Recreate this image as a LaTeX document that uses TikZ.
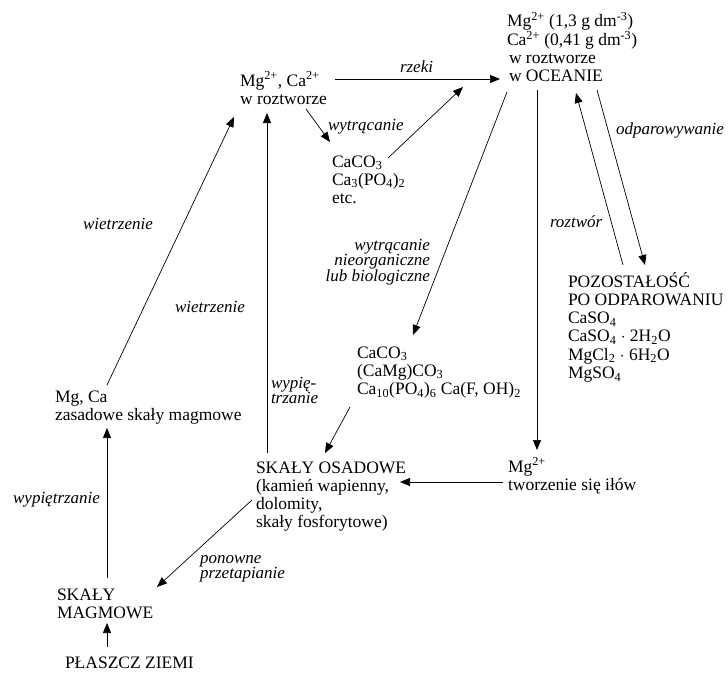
\documentclass[tikz,border=0pt]{standalone}
\usepackage{fontspec}
\setmainfont{Liberation Serif}
\usetikzlibrary{arrows.meta}
\newcommand{\stackL}[1]{\vtop{\baselineskip=18.3pt\lineskiplimit=-100pt\lineskip=0pt\halign{##\hfil\cr#1\crcr}}}
\newcommand{\istackL}[1]{\vtop{\baselineskip=15.5pt\lineskiplimit=-100pt\lineskip=0pt\halign{##\hfil\cr#1\crcr}}}
\newcommand{\istackR}[1]{\vtop{\baselineskip=15.5pt\lineskiplimit=-100pt\lineskip=0pt\halign{\hfil##\cr#1\crcr}}}
\newcommand{\up}[1]{\textsuperscript{#1}}
\newcommand{\dn}[1]{\textsubscript{#1}}
\begin{document}
\begin{tikzpicture}[x=1pt,y=-1pt,
  every node/.style={inner sep=0pt, outer sep=0pt},
  txt/.style={font=\fontsize{17.5}{18.3}\selectfont, anchor=base west},
  lab/.style={font=\fontsize{17}{15.5}\selectfont\itshape, anchor=base west},
  labR/.style={font=\fontsize{17}{15.5}\selectfont\itshape, anchor=base east},
  arr/.style={line width=0.7pt, -{Triangle[length=10pt,width=8pt]}}]
\path[fill=white,use as bounding box] (0,0) rectangle (728,677);

% main nodes
\node[txt] (ocean) at (507,27) {\stackL{Mg\up{2+} (1,3 g dm\up{-3})\cr Ca\up{2+} (0,41 g dm\up{-3})\cr \kern2pt w roztworze\cr \kern2pt w OCEANIE}};
\node[txt] (sol) at (240,86) {\stackL{Mg\up{2+}, Ca\up{2+}\cr w roztworze}};
\node[txt] (prec) at (332,167) {\stackL{CaCO\dn{3}\cr Ca\dn{3}(PO\dn{4})\dn{2}\cr etc.}};
\node[txt] (evap) at (568,287) {\stackL{POZOSTAŁOŚĆ\cr PO ODPAROWANIU\cr CaSO\dn{4}\cr CaSO\dn{4} $\cdot$ 2H\dn{2}O\cr MgCl\dn{2} $\cdot$ 6H\dn{2}O\cr MgSO\dn{4}}};
\node[txt] (carb) at (357,358) {\stackL{CaCO\dn{3}\cr (CaMg)CO\dn{3}\cr Ca\dn{10}(PO\dn{4})\dn{6} Ca(F, OH)\dn{2}}};
\node[txt] (sed) at (256,473) {\stackL{SKAŁY OSADOWE\cr (kamień wapienny,\cr dolomity,\cr skały fosforytowe)}};
\node[txt] (clay) at (508,472) {\stackL{Mg\up{2+}\cr tworzenie się iłów}};
\node[txt] (basic) at (55,402) {\stackL{Mg, Ca\cr zasadowe skały magmowe}};
\node[txt] (magm) at (57,600) {\stackL{SKAŁY\cr MAGMOWE}};
\node[txt] (mantle) at (65,668) {PŁASZCZ ZIEMI};

% labels
\node[lab] (l1) at (400,72) {rzeki};
\node[lab] (l2) at (328,130) {wytrącanie};
\node[labR] (l3) at (430,250) {\istackR{wytrącanie\cr nieorganiczne\cr lub biologiczne}};
\node[lab] (l4) at (616,134) {odparowywanie};
\node[lab] (l5) at (550,227) {roztwór};
\node[lab] (l6) at (83,229) {wietrzenie};
\node[lab] (l7) at (175,312) {wietrzenie};
\node[lab] (l8) at (271,388) {\istackL{wypię-\cr trzanie}};
\node[labR] (l9) at (100,503) {wypiętrzanie};
\node[lab] (l10) at (200,563) {\istackL{ponowne\cr przetapianie}};

% connectors
\draw[arr] ([shift={(95,-7)}]sol.base west) -- ([shift={(-7,52)}]ocean.base west);
\draw[arr] ([shift={(66,23)}]sol.base west) -- ([shift={(-2,-25)}]prec.base west);
\draw[arr] ([shift={(56,-9)}]prec.base west) -- ([shift={(-44,60)}]ocean.base west);
\draw[arr] ([shift={(0,65)}]ocean.base west) -- ([shift={(56,-23)}]carb.base west);
\draw[arr] ([shift={(30,63)}]ocean.base west) -- ([shift={(29,-22)}]clay.base west);
\draw[arr] ([shift={(55,-22)}]evap.base west) -- ([shift={(69,66)}]ocean.base west);
\draw[arr] ([shift={(90,63)}]ocean.base west) -- ([shift={(77,-22)}]evap.base west);
\draw[arr] ([shift={(-5,10)}]clay.base west) -- ([shift={(144,9)}]sed.base west);
\draw[arr] ([shift={(-7,49)}]carb.base west) -- ([shift={(69,-20)}]sed.base west);
\draw[arr] ([shift={(11,-20)}]sed.base west) -- ([shift={(27,27)}]sol.base west);
\draw[arr] ([shift={(52,-17)}]basic.base west) -- ([shift={(-6,31)}]sol.base west);
\draw[arr] ([shift={(50,-22)}]magm.base west) -- ([shift={(52,26)}]basic.base west);
\draw[arr] ([shift={(42,-21)}]mantle.base west) -- ([shift={(50,23)}]magm.base west);
\draw[arr] ([shift={(-4,27)}]sed.base west) -- ([shift={(100,-13)}]magm.base west);
\end{tikzpicture}
\end{document}
